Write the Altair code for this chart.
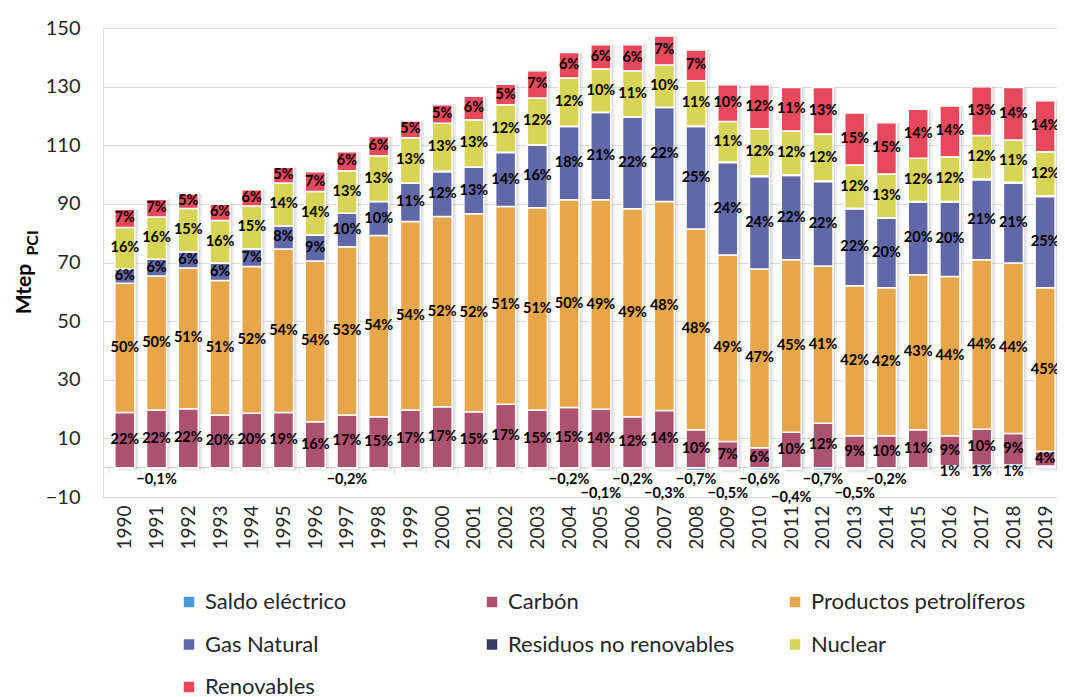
import altair as alt
import pandas as pd

FONT = "Lato"

years = list(range(1990, 2020))

series = ["Saldo eléctrico", "Carbón", "Productos petrolíferos", "Gas Natural",
          "Residuos no renovables", "Nuclear", "Renovables"]
colors = ["#4a9bd6", "#ad5170", "#e8a64b", "#6168a8", "#363b63", "#d8d455", "#e8485c"]

# Mtep
saldo = [0, -0.1, 0, 0, 0, 0, 0, -0.2, 0, 0, 0, 0, 0, 0, -0.3, -0.1, -0.3, -0.4, -1.0, -0.65,
         -0.8, -0.5, -0.9, -0.6, -0.25, 0, 0.7, 0.8, 0.9, 0.6]
carbon = [18.8, 19.7, 20.1, 18.0, 18.6, 18.8, 15.7, 18.0, 17.4, 19.7, 20.8, 19.1, 21.6, 19.7, 20.5,
          19.9, 17.4, 19.5, 12.9, 8.9, 6.8, 12.1, 15.2, 10.9, 10.9, 12.9, 10.2, 12.3, 10.8, 4.9]
petro = [44.1, 45.7, 48.0, 45.9, 50.0, 55.8, 54.8, 57.4, 61.8, 64.3, 64.9, 67.5, 67.5, 69.0, 70.9,
         71.5, 70.9, 71.3, 68.5, 63.7, 61.0, 58.8, 53.6, 51.2, 50.5, 52.9, 54.3, 57.8, 58.1, 55.9]
gas = [4.9, 5.7, 5.6, 5.9, 6.1, 7.9, 8.9, 11.4, 11.6, 13.1, 15.3, 15.9, 18.4, 21.4, 25.0,
       29.8, 31.3, 32.1, 35.0, 31.5, 31.5, 28.8, 28.8, 26.2, 23.7, 24.8, 25.4, 27.3, 27.3, 31.1]
residuos = [0, 0, 0, 0, 0, 0, 0, 0, 0, 0, 0.1, 0.1, 0.1, 0.1, 0.1,
            0.1, 0.1, 0.1, 0.2, 0.2, 0.2, 0.2, 0.2, 0.2, 0.2, 0.2, 0.2, 0.3, 0.3, 0.3]
nuclear = [14.1, 14.4, 14.7, 14.5, 14.6, 14.6, 14.8, 14.5, 15.6, 15.5, 16.4, 16.1, 16.2, 15.9, 16.4,
           14.7, 15.7, 14.4, 15.4, 13.8, 16.1, 15.0, 16.0, 14.8, 14.9, 14.8, 15.3, 14.8, 14.4, 15.0]
renov = [6.3, 6.1, 5.0, 5.6, 5.5, 5.4, 6.8, 6.5, 6.6, 5.7, 6.3, 8.0, 7.0, 9.3, 8.7,
         8.3, 8.9, 9.9, 10.5, 12.5, 15.0, 14.8, 15.9, 17.7, 17.5, 16.7, 17.3, 16.7, 17.9, 17.4]

lbl_saldo = ["", "−0,1%", "", "", "", "", "", "−0,2%", "", "", "", "", "", "", "−0,2%",
             "−0,1%", "−0,2%", "−0,3%", "−0,7%", "−0,5%", "−0,6%", "−0,4%", "−0,7%", "−0,5%", "−0,2%",
             "", "1%", "1%", "1%", ""]
tier_saldo = ["", "a", "", "", "", "", "", "a", "", "", "", "", "", "", "a",
              "b", "a", "b", "a", "b", "a", "c", "a", "b", "a",
              "", "p", "p", "p", ""]
lbl_carbon = ["22%", "22%", "22%", "20%", "20%", "19%", "16%", "17%", "15%", "17%", "17%", "15%", "17%",
              "15%", "15%", "14%", "12%", "14%", "10%", "7%", "6%", "10%", "12%", "9%", "10%", "11%",
              "9%", "10%", "9%", "4%"]
lbl_petro = ["50%", "50%", "51%", "51%", "52%", "54%", "54%", "53%", "54%", "54%", "52%", "52%", "51%",
             "51%", "50%", "49%", "49%", "48%", "48%", "49%", "47%", "45%", "41%", "42%", "42%", "43%",
             "44%", "44%", "44%", "45%"]
lbl_gas = ["6%", "6%", "6%", "6%", "7%", "8%", "9%", "10%", "10%", "11%", "12%", "13%", "14%", "16%",
           "18%", "21%", "22%", "22%", "25%", "24%", "24%", "22%", "22%", "22%", "20%", "20%", "20%",
           "21%", "21%", "25%"]
lbl_resid = [""] * 30
lbl_nuc = ["16%", "16%", "15%", "16%", "15%", "14%", "14%", "13%", "13%", "13%", "13%", "13%", "12%",
           "12%", "12%", "10%", "11%", "10%", "11%", "11%", "12%", "12%", "12%", "12%", "13%", "12%",
           "12%", "12%", "11%", "12%"]
lbl_ren = ["7%", "7%", "5%", "6%", "6%", "5%", "7%", "6%", "6%", "5%", "5%", "6%", "5%", "7%", "6%",
           "6%", "6%", "7%", "7%", "10%", "12%", "11%", "13%", "15%", "15%", "14%", "14%", "13%", "14%",
           "14%"]

values = [saldo, carbon, petro, gas, residuos, nuclear, renov]
labels = [lbl_saldo, lbl_carbon, lbl_petro, lbl_gas, lbl_resid, lbl_nuc, lbl_ren]

rows = []
for i, yr in enumerate(years):
    for k in range(len(series)):
        rows.append({"year": yr, "serie": series[k], "ord": k, "value": values[k][i],
                     "lbl": labels[k][i], "tier": tier_saldo[i] if k == 0 else ""})
df = pd.DataFrame(rows)

tot = pd.DataFrame({
    "year": years,
    "lo": [min(s, 0) for s in saldo],
    "hi": [sum(v[i] for v in values if v[i] > 0) for i in range(len(years))],
})

# category boundaries on the zero axis (Excel-style tick marks between bars)
bounds = pd.DataFrame({"b": [y - 0.5 for y in years] + [years[-1] + 0.5], "z": 0})

BAR_W = 20
x_scale = alt.Scale(domain=[1989.47, 2019.217], nice=False, zero=False)
x_axis = alt.Axis(title=None, values=years, format="d", labelAngle=270, labelAlign="right",
                  labelBaseline="middle", labelFontSize=19, labelFont=FONT, labelColor="#262626",
                  ticks=False, domain=False, labelPadding=8, grid=False, labelFlush=False,
                  labelOverlap=False)
x_enc = alt.X("year:Q", scale=x_scale, axis=x_axis)

y_scale = alt.Scale(domain=[-10, 150], nice=False, zero=False)
y_axis = alt.Axis(values=list(range(-10, 151, 20)), title=None, grid=True, gridColor="#d9d9d9",
                  gridWidth=1, ticks=False, domain=False, labelFontSize=20, labelFont=FONT,
                  labelColor="#262626", labelPadding=23, labelFlush=False)


def yq(field):
    return alt.Y(field, scale=y_scale, axis=y_axis)


zero_line = alt.Chart(pd.DataFrame({"z": [0]})).mark_rule(color="#d0d0d0", strokeWidth=1).encode(
    y=yq("z:Q"))

zero_ticks = alt.Chart(bounds).mark_tick(color="#d0d0d0", thickness=1, size=6, orient="vertical",
                                         yOffset=3).encode(
    x=alt.X("b:Q", scale=x_scale, axis=x_axis), y=yq("z:Q"))

shadow1 = alt.Chart(tot).mark_bar(color="#8c8c8c", opacity=0.16, xOffset=4, yOffset=3,
                                  width=BAR_W).encode(x=x_enc, y=yq("lo:Q"), y2="hi:Q")
shadow2 = alt.Chart(tot).mark_bar(color="#8c8c8c", opacity=0.2, xOffset=2, yOffset=1.5,
                                  width=BAR_W).encode(x=x_enc, y=yq("lo:Q"), y2="hi:Q")

stacked = alt.Chart(df).transform_stack(
    stack="value", groupby=["year"], as_=["y0", "y1"],
    sort=[alt.SortField("ord", order="ascending")])

bars = stacked.mark_bar(stroke="white", strokeWidth=1.5, width=BAR_W).encode(
    x=x_enc,
    y=yq("y0:Q"),
    y2="y1:Q",
    color=alt.Color("serie:N", scale=alt.Scale(domain=series, range=colors),
                    legend=alt.Legend(title=None, orient="none", legendX=75, legendY=563,
                                      direction="horizontal", columns=3, symbolType="square",
                                      symbolSize=110, symbolStrokeWidth=0, labelFontSize=22,
                                      labelFont=FONT, labelColor="#262626", labelLimit=400,
                                      columnPadding=49, rowPadding=20.5, gridAlign="all",
                                      labelOffset=5, padding=0)),
    order=alt.Order("ord:Q"),
)

seg_text = stacked.transform_filter("datum.lbl != '' && datum.ord > 0").transform_calculate(
    mid="(datum.y0 + datum.y1) / 2").mark_text(
    font=FONT, fontSize=14.5, fontWeight="bold", color="black").encode(
    x=x_enc, y=yq("mid:Q"), text="lbl:N")

tier_dy = {"a": 12, "b": 26, "c": 30, "p": 4}
saldo_layers = []
for t, dy in tier_dy.items():
    saldo_layers.append(
        alt.Chart(df).transform_filter(f"datum.ord == 0 && datum.tier == '{t}'").transform_calculate(
            z="0").mark_text(font=FONT, fontSize=14.5, fontWeight="bold", color="black", dy=dy).encode(
            x=x_enc, y=yq("z:Q"), text="lbl:N"))

title_main = alt.Chart(pd.DataFrame({"t": ["Mtep"]})).mark_text(
    angle=270, font=FONT, fontSize=21, fontWeight="bold", color="black", align="center",
    baseline="middle").encode(x=alt.value(-78), y=alt.value(261), text="t:N")
title_sub = alt.Chart(pd.DataFrame({"t": ["PCI"]})).mark_text(
    angle=270, font=FONT, fontSize=16, fontWeight="bold", color="black", align="center",
    baseline="middle").encode(x=alt.value(-70), y=alt.value(215), text="t:N")

chart = alt.layer(zero_line, zero_ticks, shadow1, shadow2, bars, seg_text, *saldo_layers,
                  title_main, title_sub).properties(
    width=954, height=469,
    autosize=alt.AutoSizeParams(type="none"),
    padding={"left": 95, "top": 20, "right": 0, "bottom": 200},
).configure_view(stroke=None).configure(background="white")

chart.save("out.html", embed_options={"renderer": "svg", "actions": False})
